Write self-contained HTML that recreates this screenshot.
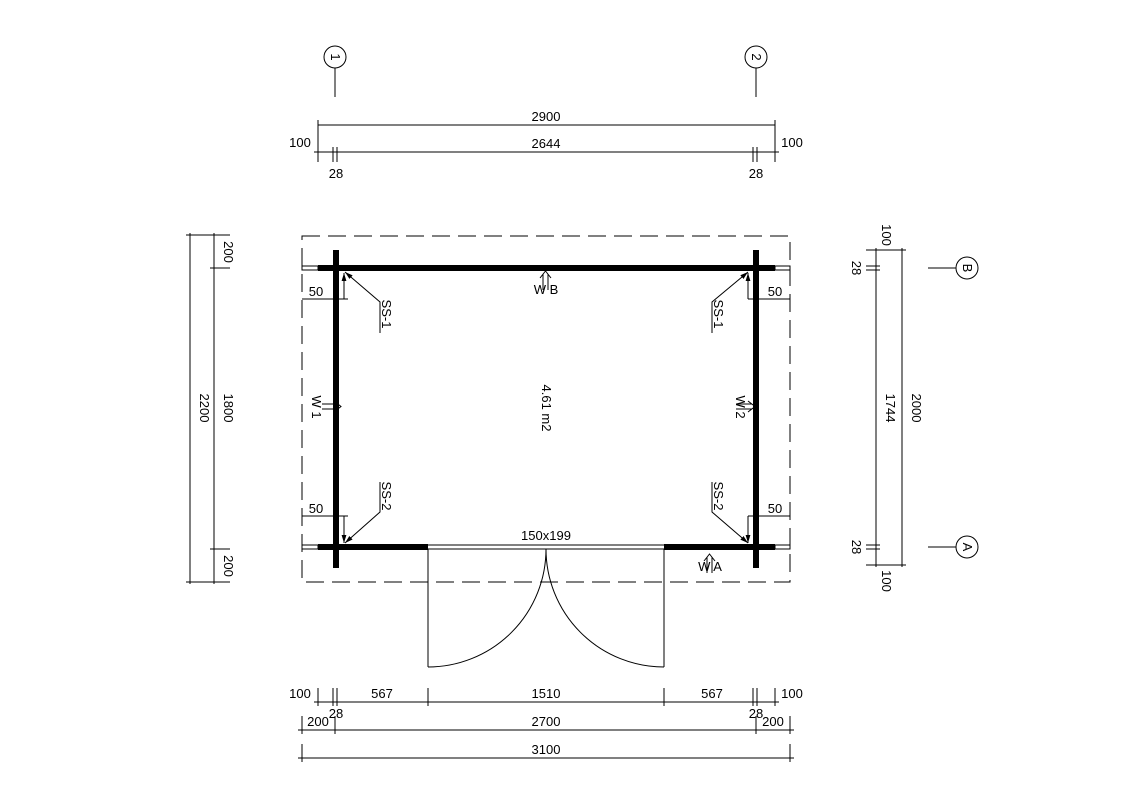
<!DOCTYPE html>
<html><head><meta charset="utf-8"><style>
html,body{margin:0;padding:0;background:#fff;}
svg{display:block;}
text{font-family:"Liberation Sans",sans-serif;font-size:13px;fill:#000;}
</style></head><body>
<svg width="1128" height="810" viewBox="0 0 1128 810" xmlns="http://www.w3.org/2000/svg">
<defs>
<marker id="ar" viewBox="0 0 10 10" refX="10" refY="5" markerWidth="8" markerHeight="8" orient="auto-start-reverse"><path d="M0,2 L10,5 L0,8 z" fill="#000"/></marker>
</defs>
<g stroke="#000" stroke-width="1" fill="none">
<!-- dashed outline -->
<rect x="302" y="236" width="488" height="346" stroke-dasharray="18,8"/>
<!-- axis markers -->
<circle cx="335" cy="57" r="11"/><line x1="335" y1="68" x2="335" y2="97"/>
<circle cx="756" cy="57" r="11"/><line x1="756" y1="68" x2="756" y2="97"/>
<circle cx="967" cy="268" r="11"/><line x1="928" y1="268" x2="956" y2="268"/>
<circle cx="967" cy="547" r="11"/><line x1="928" y1="547" x2="956" y2="547"/>
<!-- top dims -->
<line x1="318" y1="125" x2="775" y2="125"/>
<line x1="318" y1="120" x2="318" y2="162"/><line x1="775" y1="120" x2="775" y2="162"/>
<line x1="314" y1="152" x2="779" y2="152"/>
<line x1="333" y1="147" x2="333" y2="162"/><line x1="337" y1="147" x2="337" y2="162"/>
<line x1="753" y1="147" x2="753" y2="162"/><line x1="757" y1="147" x2="757" y2="162"/>
<!-- left dims -->
<line x1="190" y1="233" x2="190" y2="584"/>
<line x1="214" y1="233" x2="214" y2="584"/>
<line x1="186" y1="235" x2="230" y2="235"/>
<line x1="186" y1="582" x2="230" y2="582"/>
<line x1="210" y1="268" x2="230" y2="268"/>
<line x1="210" y1="549" x2="230" y2="549"/>
<!-- right dims -->
<line x1="876" y1="248" x2="876" y2="567"/>
<line x1="902" y1="248" x2="902" y2="567"/>
<line x1="866" y1="250" x2="906" y2="250"/>
<line x1="866" y1="565" x2="906" y2="565"/>
<line x1="866" y1="266" x2="880" y2="266"/><line x1="866" y1="270" x2="880" y2="270"/>
<line x1="866" y1="545" x2="880" y2="545"/><line x1="866" y1="549" x2="880" y2="549"/>
<!-- bottom dims -->
<line x1="314" y1="702" x2="779" y2="702"/>
<line x1="318" y1="688" x2="318" y2="706"/><line x1="333" y1="688" x2="333" y2="706"/><line x1="337" y1="688" x2="337" y2="706"/>
<line x1="428" y1="688" x2="428" y2="706"/><line x1="664" y1="688" x2="664" y2="706"/>
<line x1="753" y1="688" x2="753" y2="706"/><line x1="757" y1="688" x2="757" y2="706"/><line x1="775" y1="688" x2="775" y2="706"/>
<line x1="298" y1="730" x2="794" y2="730"/>
<line x1="302" y1="716" x2="302" y2="734"/><line x1="335" y1="716" x2="335" y2="734"/><line x1="756" y1="716" x2="756" y2="734"/><line x1="790" y1="716" x2="790" y2="734"/>
<line x1="298" y1="758" x2="794" y2="758"/>
<line x1="302" y1="744" x2="302" y2="762"/><line x1="790" y1="744" x2="790" y2="762"/>
<!-- door -->
<line x1="428" y1="545" x2="664" y2="545"/><line x1="428" y1="549" x2="664" y2="549"/>
<line x1="428" y1="549" x2="428" y2="667"/>
<path d="M428,667 A118,118 0 0 0 546,549"/>
<line x1="664" y1="549" x2="664" y2="667"/>
<path d="M664,667 A118,118 0 0 1 546,549"/>
<!-- log end extensions -->
<rect x="302" y="266" width="16" height="4"/>
<rect x="775" y="266" width="15" height="4"/>
<rect x="302" y="545" width="16" height="4"/>
<rect x="775" y="545" width="15" height="4"/>
<!-- 50 dims -->
<line x1="302" y1="299" x2="348" y2="299"/><line x1="344" y1="299" x2="344" y2="273" marker-end="url(#ar)"/>
<line x1="748" y1="299" x2="790" y2="299"/><line x1="748" y1="299" x2="748" y2="273" marker-end="url(#ar)"/>
<line x1="302" y1="516" x2="348" y2="516"/><line x1="344" y1="516" x2="344" y2="543" marker-end="url(#ar)"/>
<line x1="748" y1="516" x2="790" y2="516"/><line x1="748" y1="516" x2="748" y2="543" marker-end="url(#ar)"/>
<!-- SS leaders -->
<polyline points="380,333 380,302 345,272" marker-end="url(#ar)"/>
<polyline points="712,333 712,302 748,272" marker-end="url(#ar)"/>
<polyline points="380,482 380,512 345,543" marker-end="url(#ar)"/>
<polyline points="712,482 712,512 748,543" marker-end="url(#ar)"/>
<!-- W arrows -->
<path d="M543,290 L543,274 M548,290 L548,274 M540,278 L545.5,271 L551,278"/>
<path d="M707,573 L707,557 M712,573 L712,557 M704,561 L709.5,554 L715,561"/>
<path d="M322,404 L338,404 M322,409 L338,409 M334,401 L341,406.5 L334,412"/>
<path d="M736,404 L752,404 M736,409 L752,409 M748,401 L755,406.5 L748,412"/>
</g>
<!-- walls -->
<g fill="#000">
<rect x="318" y="265" width="457" height="6"/>
<rect x="318" y="544" width="110" height="6"/>
<rect x="664" y="544" width="111" height="6"/>
<rect x="333" y="250" width="6" height="318"/>
<rect x="753" y="250" width="6" height="318"/>
</g>
<!-- texts -->
<g text-anchor="middle">
<text x="335" y="61" transform="rotate(90 335 57)">1</text>
<text x="756" y="61" transform="rotate(90 756 57)">2</text>
<text x="967" y="272" transform="rotate(90 967 268)">B</text>
<text x="967" y="551" transform="rotate(90 967 547)">A</text>
<text x="546" y="121">2900</text>
<text x="546" y="148">2644</text>
<text x="300" y="147">100</text>
<text x="792" y="147">100</text>
<text x="336" y="178">28</text>
<text x="756" y="178">28</text>
<text x="546" y="540">150x199</text>
<text x="316" y="296">50</text>
<text x="775" y="296">50</text>
<text x="316" y="513">50</text>
<text x="775" y="513">50</text>
<text x="300" y="698">100</text>
<text x="792" y="698">100</text>
<text x="382" y="698">567</text>
<text x="546" y="698">1510</text>
<text x="712" y="698">567</text>
<text x="336" y="718">28</text>
<text x="756" y="718">28</text>
<text x="318" y="726">200</text>
<text x="773" y="726">200</text>
<text x="546" y="726">2700</text>
<text x="546" y="754">3100</text>
<text x="546" y="294">W  B</text>
<text x="710" y="571">W  A</text>
<text x="200" y="408" transform="rotate(90 200 408)">2200</text>
<text x="224" y="408" transform="rotate(90 224 408)">1800</text>
<text x="224" y="252" transform="rotate(90 224 252)">200</text>
<text x="224" y="566" transform="rotate(90 224 566)">200</text>
<text x="886" y="408" transform="rotate(90 886 408)">1744</text>
<text x="912" y="408" transform="rotate(90 912 408)">2000</text>
<text x="882" y="235" transform="rotate(90 882 235)">100</text>
<text x="882" y="581" transform="rotate(90 882 581)">100</text>
<text x="852" y="268" transform="rotate(90 852 268)">28</text>
<text x="852" y="547" transform="rotate(90 852 547)">28</text>
<text x="546" y="412" transform="rotate(90 546 408)" font-size="14">4.61 m2</text>
<text x="386" y="318" transform="rotate(90 386 314)">SS-1</text>
<text x="718" y="318" transform="rotate(90 718 314)">SS-1</text>
<text x="386" y="500" transform="rotate(90 386 496)">SS-2</text>
<text x="718" y="500" transform="rotate(90 718 496)">SS-2</text>
<text x="316" y="411" transform="rotate(90 316 407)">W  1</text>
<text x="740" y="411" transform="rotate(90 740 407)">W  2</text>
</g>
</svg>
</body></html>
